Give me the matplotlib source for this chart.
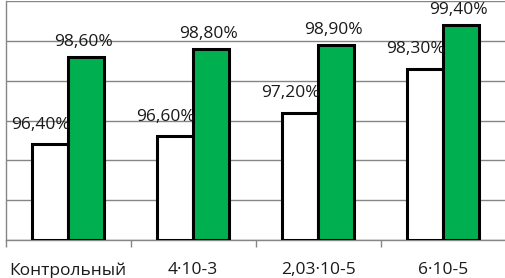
import numpy as np
import matplotlib.pyplot as plt

categories = ['Контрольный', '4·10-3', '2,03·10-5', '6·10-5']
white_vals = [96.4, 96.6, 97.2, 98.3]
green_vals = [98.6, 98.8, 98.9, 99.4]
white_lbl = ['96,40%', '96,60%', '97,20%', '98,30%']
green_lbl = ['98,60%', '98,80%', '98,90%', '99,40%']

plt.rcParams['font.family'] = ['Open Sans', 'DejaVu Sans']

fig = plt.figure(figsize=(5.05, 2.78), dpi=100)
ax = fig.add_axes([5.5 / 505, 1 - 240 / 278, 500 / 505, 239 / 278])

x = np.arange(len(categories))
w = 0.29
b1 = ax.bar(x - w / 2, np.array(white_vals) - 94, w, bottom=94, color='white',
            edgecolor='black', linewidth=2.2, zorder=3)
b2 = ax.bar(x + w / 2, np.array(green_vals) - 94, w, bottom=94, color='#00B050',
            edgecolor='black', linewidth=2.2, zorder=3)

# подписи над столбцами
for xi, v, t in zip(x, white_vals, white_lbl):
    ax.annotate(t, (xi - w / 2, v), xytext=(-7, 14), textcoords='offset points',
                ha='center', va='center', fontsize=12.5, color='#1a1a1a')
for xi, v, t in zip(x, green_vals, green_lbl):
    ax.annotate(t, (xi + w / 2, v), xytext=(-2, 10.5), textcoords='offset points',
                ha='center', va='center', fontsize=12.5, color='#1a1a1a')

ax.set_xlim(-0.5, len(categories) - 0.5)
ax.set_ylim(94, 100)
ax.set_yticks(np.arange(94, 101, 1))
ax.yaxis.grid(True, color='#868686', linewidth=1.0, zorder=0)
ax.tick_params(axis='y', left=False, labelleft=False)

ax.set_xticks(x)
ax.set_xticklabels(categories, fontsize=12.5, color='#1a1a1a')
ax.set_xticks(np.arange(-0.5, len(categories), 1), minor=True)
ax.tick_params(axis='x', which='major', length=0, pad=16)
ax.tick_params(axis='x', which='minor', length=5, color='#868686', width=1)

for s in ['top', 'right']:
    ax.spines[s].set_visible(False)
for s in ['left', 'bottom']:
    ax.spines[s].set_color('#868686')
    ax.spines[s].set_linewidth(1.0)

plt.savefig('out.png', dpi=100)
